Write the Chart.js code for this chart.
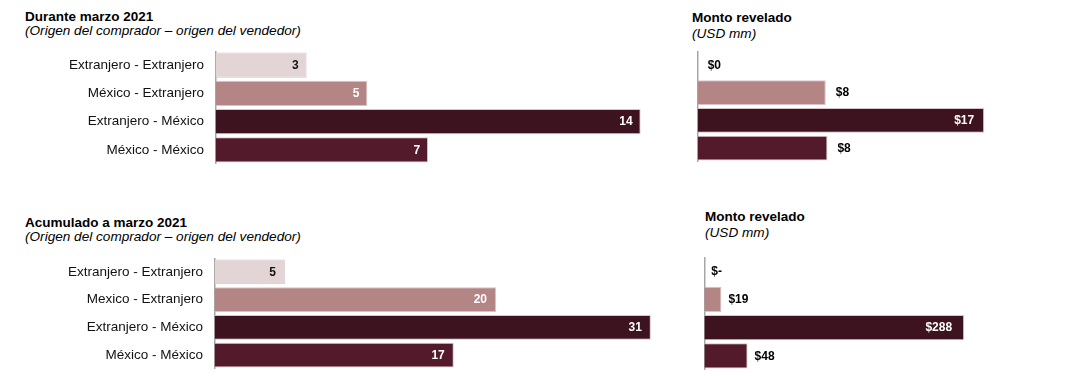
<!DOCTYPE html>
<html>
<head>
<meta charset="utf-8">
<script src="https://cdn.jsdelivr.net/npm/chart.js@4.4.1/dist/chart.umd.min.js"></script>
<style>
  html, body { margin: 0; padding: 0; background: #fff; }
  body { width: 1071px; height: 376px; position: relative; overflow: hidden;
         font-family: "Liberation Sans", Arial, sans-serif; color: #000; }
  .t { position: absolute; white-space: nowrap; line-height: 16px; }
  .b { font-weight: bold; font-size: 13.5px; }
  .i { font-style: italic; font-size: 13.6px; }
  .c { position: absolute; }
</style>
</head>
<body>
<div class="t b" style="left:25px;top:9px;">Durante marzo 2021</div>
<div class="t i" style="left:25px;top:23px;">(Origen del comprador – origen del vendedor)</div>
<div class="t b" style="left:692px;top:10px;">Monto revelado</div>
<div class="t i" style="left:692px;top:26px;">(USD mm)</div>

<div class="t b" style="left:25px;top:215px;">Acumulado a marzo 2021</div>
<div class="t i" style="left:25px;top:229px;">(Origen del comprador – origen del vendedor)</div>
<div class="t b" style="left:705px;top:209px;">Monto revelado</div>
<div class="t i" style="left:705px;top:225px;">(USD mm)</div>

<div class="c" style="left:0px;top:51px;width:671px;height:113px;"><canvas id="c1"></canvas></div>
<div class="c" style="left:690px;top:51px;width:311px;height:111px;"><canvas id="c2"></canvas></div>
<div class="c" style="left:0px;top:258px;width:679px;height:111px;"><canvas id="c3"></canvas></div>
<div class="c" style="left:690px;top:257px;width:303px;height:113px;"><canvas id="c4"></canvas></div>

<script>
// ---- data ----
const catsMarch = ["Extranjero - Extranjero", "México - Extranjero", "Extranjero - México", "México - México"];
const dealsMarch = [3, 5, 14, 7];
const amountMarch = [0, 7.6, 17, 7.7];

const catsYtd = ["Extranjero - Extranjero", "Mexico - Extranjero", "Extranjero - México", "México - México"];
const dealsYtd = [5, 20, 31, 17];
const amountYtd = [0, 19, 288, 48];

// ---- styling ----
const barColors = ["#e3d4d6", "#b38585", "#3d131f", "#521a2a"];
const insideLabelColors = ["#111111", "#ffffff", "#ffffff", "#ffffff"];
Chart.defaults.font.family = '"Liberation Sans", Arial, sans-serif';
Chart.defaults.color = "#111";

const valueLabels = {
  id: "valueLabels",
  afterDatasetsDraw(chart, args, opts) {
    const { ctx, chartArea } = chart;
    const ds = chart.data.datasets[0];
    const meta = chart.getDatasetMeta(0);
    ctx.save();
    ctx.font = 'bold 12px "Liberation Sans", Arial, sans-serif';
    ctx.textBaseline = "middle";
    meta.data.forEach((bar, i) => {
      const v = ds.data[i];
      const txt = opts.format(v);
      const w = ctx.measureText(txt).width;
      const outX = bar.x + opts.gap;
      if (opts.mode === "inside" || outX + w > chartArea.right) {
        ctx.textAlign = "right";
        ctx.fillStyle = insideLabelColors[i];
        ctx.fillText(txt, bar.x - opts.pad, bar.y + 0.5);
      } else {
        ctx.textAlign = "left";
        ctx.fillStyle = "#000";
        ctx.fillText(txt, outX, bar.y + 0.5);
      }
    });
    ctx.restore();
  }
};

function makeChart(id, labels, values, opt) {
  return new Chart(document.getElementById(id), {
    type: "bar",
    data: {
      labels: labels,
      datasets: [{
        data: values,
        backgroundColor: barColors,
        borderColor: "rgba(214,190,196,0.9)",
        borderWidth: (c) => (c.raw === 0 ? 0 : 1),
        borderSkipped: "start",
        categoryPercentage: 1,
        barPercentage: 0.9
      }]
    },
    options: {
      indexAxis: "y",
      responsive: true,
      maintainAspectRatio: false,
      animation: false,
      layout: { padding: 0 },
      plugins: {
        legend: { display: false },
        tooltip: { enabled: false },
        valueLabels: { mode: opt.mode, format: opt.format, gap: opt.gap, pad: opt.pad }
      },
      scales: {
        x: { display: false, min: 0, max: opt.max },
        y: {
          afterFit: (s) => { s.width = opt.axisW; s.paddingTop = 0; s.paddingBottom = 0; },
          grid: { display: false, drawTicks: false },
          border: { display: true, color: "#a6a6a6", width: 1.5 },
          ticks: {
            display: opt.showTicks,
            padding: 11.5,
            color: "#111",
            font: { size: 13.5 }
          }
        }
      }
    },
    plugins: [valueLabels]
  });
}

makeChart("c1", catsMarch, dealsMarch, {
  max: 15, axisW: 215.5, showTicks: true, mode: "inside", pad: 8, gap: 8,
  format: (v) => String(v)
});
makeChart("c2", catsMarch, amountMarch, {
  max: 18, axisW: 7.7, showTicks: false, mode: "auto", pad: 10, gap: 10,
  format: (v) => "$" + Math.round(v)
});
makeChart("c3", catsYtd, dealsYtd, {
  max: 33, axisW: 214.5, showTicks: true, mode: "inside", pad: 9, gap: 8,
  format: (v) => String(v)
});
makeChart("c4", catsYtd, amountYtd, {
  max: 320, axisW: 14.3, showTicks: false, mode: "auto", pad: 12, gap: 7,
  format: (v) => (v === 0 ? "$-" : "$" + Math.round(v))
});
</script>
</body>
</html>
